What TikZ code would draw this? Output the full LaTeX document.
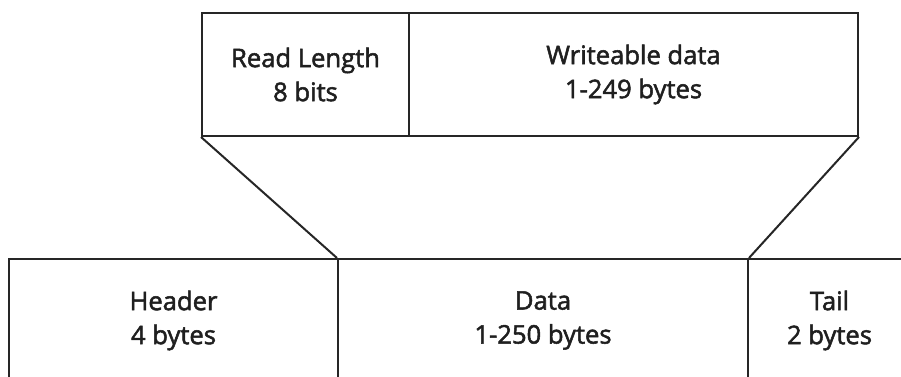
\documentclass[tikz,border=0pt]{standalone}
\usepackage{fontspec}
\newfontfamily\labelfont{Open Sans}[FakeBold=2]
\begin{document}
\begin{tikzpicture}[x=0.5pt,y=-0.5pt,
  field/.style={draw=black!85, line width=1pt, inner sep=0pt, align=center,
    text=black!88, font=\labelfont\fontsize{12.8}{17}\selectfont},
  link/.style={draw=black!85, line width=1pt}]
  \useasboundingbox (0,0) rectangle (901,376);
  \clip (0,0) rectangle (901,376);
  % frame layout (outer packet)
  \node[field, minimum width=164.5pt, minimum height=61.5pt] (header) at (173.5,320.5) {Header\\4 bytes};
  \node[field, minimum width=205pt, minimum height=61.5pt] (data) at (543,320.5) {Data\\1-250 bytes};
  \node[field, minimum width=81.5pt, minimum height=61.5pt] (tail) at (829.5,320.5) {Tail\\2 bytes};
  % data payload breakdown
  \node[field, minimum width=103.5pt, minimum height=61.5pt] (readlen) at (305.5,74.5) {Read Length\\8 bits};
  \node[field, minimum width=224.5pt, minimum height=61.5pt] (wdata) at (633.5,74.5) {Writeable data\\1-249 bytes};
  % expansion lines
  \draw[link] (readlen.south west) -- (data.north west);
  \draw[link] (wdata.south east) -- (data.north east);
\end{tikzpicture}
\end{document}
